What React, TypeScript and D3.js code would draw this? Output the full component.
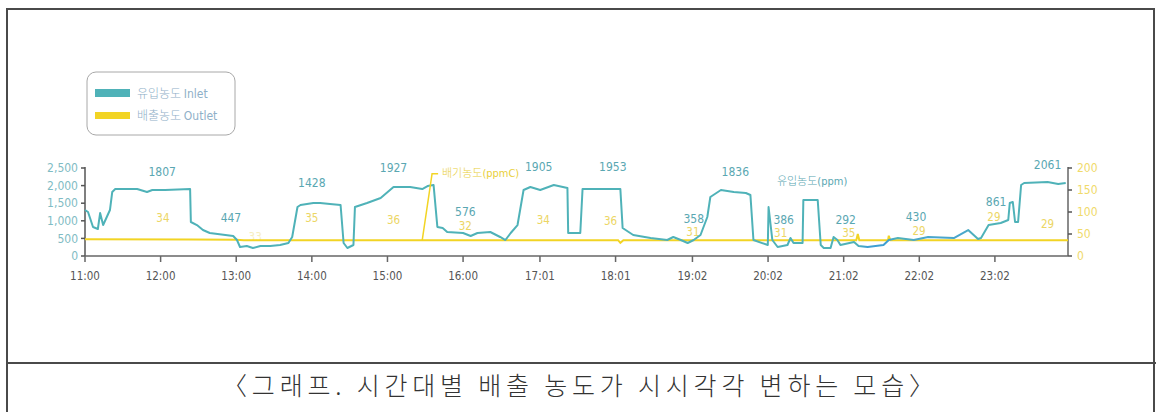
import React from 'react';
import * as d3 from 'd3';

// ---- data (hours as decimal, inlet in ppm, outlet in ppmC) ----
const tickLabels = ['11:00','12:00','13:00','14:00','15:00','16:00','17:01','18:01','19:02','20:02','21:02','22:02','23:02'];
const leftTicks = [0, 500, 1000, 1500, 2000, 2500];
const rightTicks = [0, 50, 100, 150, 200];

const inlet: [number, number][] = [
  [11.0,1306],[11.04,1250],[11.106,824],[11.17,767],[11.2,1221],[11.24,880],[11.33,1306],[11.36,1818],
  [11.4,1903],[11.69,1903],[11.82,1818],[11.89,1874],[12.06,1874],[12.39,1903],[12.4,966],[12.48,880],
  [12.56,738],[12.65,653],[12.96,568],[13.01,454],[13.05,256],[13.14,284],[13.22,227],[13.32,284],
  [13.45,284],[13.58,312],[13.69,369],[13.74,540],[13.81,1392],[13.85,1449],[14.02,1505],[14.11,1505],
  [14.24,1477],[14.38,1449],[14.42,369],[14.47,227],[14.55,312],[14.57,1392],[14.73,1505],[14.91,1647],
  [15.08,1960],[15.3,1960],[15.46,1903],[15.53,1988],[15.61,2016],[15.66,824],[15.73,795],[15.79,682],
  [16.0,653],[16.1,568],[16.19,653],[16.36,682],[16.49,540],[16.56,454],[16.63,653],[16.72,880],
  [16.8,1874],[16.89,1960],[17.02,1874],[17.2,2016],[17.38,1931],[17.39,653],[17.55,653],[17.58,1903],
  [18.08,1903],[18.11,795],[18.25,596],[18.48,511],[18.7,454],[18.78,540],[18.88,454],[18.97,369],
  [19.05,454],[19.14,596],[19.23,1108],[19.27,1676],[19.41,1874],[19.58,1818],[19.74,1790],[19.8,1732],
  [19.84,454],[20.03,312],[20.04,1392],[20.09,454],[20.16,256],[20.29,312],[20.33,511],[20.37,369],
  [20.49,369],[20.5,1590],[20.69,1590],[20.73,312],[20.77,227],[20.86,227],[20.9,540],[20.95,454],
  [20.99,312],[21.17,398],[21.23,284],[21.35,256],[21.56,312],[21.63,454],[21.75,511],[21.96,454],
  [22.15,540],[22.49,511],[22.68,738],[22.81,483],[22.85,511],[22.95,880],[23.11,937],[23.21,1022],
  [23.23,1505],[23.27,1534],[23.3,966],[23.34,966],[23.38,2016],[23.42,2073],[23.73,2102],[23.87,2045],
  [23.97,2073],
];

const outlet: [number, number][] = [
  [11.0,38],[12.4,37.5],[13.0,37],[13.1,36],[15.5,36],[18.05,36],[18.08,30],[18.12,36],
  [21.2,36],[21.22,50],[21.24,36],[21.62,36],[21.63,46],[21.65,36],[24.0,36],
];

// label positions: [hour, inlet-axis value, text]
const inletLabels: [number, number, string][] = [
  [12.02,2386,'1807'],[12.93,1080,'447'],[14.0,2074,'1428'],[15.08,2500,'1927'],[16.03,1250,'576'],
  [17.0,2528,'1905'],[17.98,2528,'1953'],[19.05,1051,'358'],[19.6,2386,'1836'],[20.24,1023,'386'],
  [21.06,1023,'292'],[21.99,1108,'430'],[23.05,1534,'861'],[23.73,2585,'2061'],
];
const outletLabels: [number, number, string][] = [
  [12.03,1080,'34'],[14.0,1080,'35'],[15.08,1023,'36'],[16.03,852,'32'],[17.06,1023,'34'],
  [17.95,994,'36'],[19.04,682,'31'],[20.2,653,'31'],[21.1,653,'35'],[22.03,710,'29'],
  [23.02,1108,'29'],[23.73,909,'29'],[13.25,540,'33'],
];
const exhaustLeader: [number, number][] = [[15.46,36],[15.59,187],[15.67,187]];

const W = 1156, H = 412;
const NARROW = "'Liberation Sans Narrow','DejaVu Sans Condensed','Roboto Condensed',sans-serif";
const KR = "'Noto Sans CJK KR',sans-serif";
const TEAL = '#4fb2b8';
const YELLOW = '#f2d424';

export default function App() {
  const x = d3.scaleLinear().domain([11, 24]).range([85, 1068]);
  const yL = d3.scaleLinear().domain([0, 2500]).range([256, 168]);
  const yR = d3.scaleLinear().domain([0, 200]).range([256, 168]);
  const parseT = (s: string) => { const [h, m] = s.split(':').map(Number); return h + m / 60; };

  const inletPath = d3.line<[number, number]>().x(d => x(d[0])).y(d => yL(d[1]))(inlet) || '';
  const outletPath = d3.line<[number, number]>().x(d => x(d[0])).y(d => yR(d[1]))(outlet) || '';
  const leaderPath = d3.line<[number, number]>().x(d => x(d[0])).y(d => yR(d[1]))(exhaustLeader) || '';

  return (
    <svg width={W} height={H} style={{ position: 'absolute', left: 0, top: 0, background: '#fff' }}>
      <defs>
        <linearGradient id="inG" gradientUnits="userSpaceOnUse" x1={x(11)} x2={x(24)} y1={0} y2={0}>
          <stop offset="0" stopColor={TEAL} />
          <stop offset={(21.2 - 11) / 13} stopColor={TEAL} />
          <stop offset={(21.35 - 11) / 13} stopColor="#3f9fd2" />
          <stop offset={(21.6 - 11) / 13} stopColor="#3f9fd2" />
          <stop offset={(21.75 - 11) / 13} stopColor={TEAL} />
          <stop offset={(22.1 - 11) / 13} stopColor="#4aa6cc" />
          <stop offset={(22.6 - 11) / 13} stopColor="#4aa6cc" />
          <stop offset={(22.8 - 11) / 13} stopColor={TEAL} />
          <stop offset="1" stopColor={TEAL} />
        </linearGradient>
      </defs>
      {/* frame */}
      <rect x={7} y={9} width={1147} height={430} fill="none" stroke="#4a4a4a" strokeWidth={2} />
      <line x1={7} x2={1156} y1={363} y2={363} stroke="#4a4a4a" strokeWidth={2} />

      {/* legend */}
      <rect x={87} y={72} width={148} height={63} rx={9} fill="#fff" stroke="#a8a8a8" strokeWidth={1} />
      <rect x={95} y={89} width={35} height={8} fill={TEAL} />
      <rect x={95} y={112} width={35} height={7} fill={YELLOW} />
      <text x={137} y={97.5} fontFamily={KR} fontWeight={300} fontSize={12} fill="#8fb0c8">유입농도 <tspan fontFamily={NARROW}>Inlet</tspan></text>
      <text x={137} y={120} fontFamily={KR} fontWeight={300} fontSize={12} fill="#8fb0c8">배출농도 <tspan fontFamily={NARROW}>Outlet</tspan></text>

      {/* axes */}
      <line x1={85} x2={85} y1={167} y2={256} stroke="#555" strokeWidth={1.5} />
      <line x1={1068} x2={1068} y1={167} y2={256} stroke="#666" strokeWidth={1.5} />
      <line x1={85} x2={1068} y1={256} y2={256} stroke="#666" strokeWidth={1.5} />
      {leftTicks.map(t => (
        <g key={'l' + t}>
          <line x1={81} x2={85} y1={yL(t)} y2={yL(t)} stroke="#555" strokeWidth={1.5} />
          <text x={78} y={yL(t)} dy="0.35em" textAnchor="end" fontFamily={NARROW} fontSize={12} fill="#7fbcc4">{d3.format(',')(t)}</text>
        </g>
      ))}
      {rightTicks.map(t => (
        <g key={'r' + t}>
          <line x1={1068} x2={1072} y1={yR(t)} y2={yR(t)} stroke="#555" strokeWidth={1.5} />
          <text x={1077} y={yR(t)} dy="0.35em" fontFamily={NARROW} fontSize={12} fill="#f0da6a">{t}</text>
        </g>
      ))}
      {tickLabels.map(s => (
        <g key={s}>
          <line x1={x(parseT(s))} x2={x(parseT(s))} y1={256} y2={262} stroke="#666" strokeWidth={1.5} />
          <text x={x(parseT(s))} y={276} dy="0.35em" textAnchor="middle" fontFamily={NARROW} fontSize={11.5} fill="#555">{s}</text>
        </g>
      ))}

      {/* outlet labels behind lines */}
      {outletLabels.map(([h, v, t], i) => (
        <text key={'o' + i} x={x(h)} y={yL(v)} dy="0.35em" textAnchor="middle" fontFamily={NARROW} fontSize={11.5} fill="#ecd664" opacity={i === outletLabels.length - 1 ? 0.4 : 1}>{t}</text>
      ))}

      {/* series */}
      <path d={outletPath} fill="none" stroke={YELLOW} strokeWidth={2} />
      <path d={inletPath} fill="none" stroke="url(#inG)" strokeWidth={2} strokeLinejoin="round" />
      <path d={leaderPath} fill="none" stroke={YELLOW} strokeWidth={1.5} />

      {inletLabels.map(([h, v, t], i) => (
        <text key={'i' + i} x={x(h)} y={yL(v)} dy="0.35em" textAnchor="middle" fontFamily={NARROW} fontSize={12} fill="#5aa7b2">{t}</text>
      ))}
      <text x={x(15.72)} y={yR(189)} dy="0.35em" fontFamily={KR} fontWeight={300} fontSize={11} fill="#e9cf3a">배기농도<tspan fontFamily={NARROW}>(ppmC)</tspan></text>
      <text x={x(20.15)} y={yL(2114)} dy="0.35em" fontFamily={KR} fontWeight={300} fontSize={11} fill="#5aa7b2">유입농도<tspan fontFamily={NARROW}>(ppm)</tspan></text>

      {/* caption */}
      <text x={578} y={386} dy="0.35em" textAnchor="middle" fontFamily={KR} fontWeight={300} fontSize={25} fill="#333" textLength={712} lengthAdjust="spacing">〈그래프. 시간대별 배출 농도가 시시각각 변하는 모습〉</text>
    </svg>
  );
}
